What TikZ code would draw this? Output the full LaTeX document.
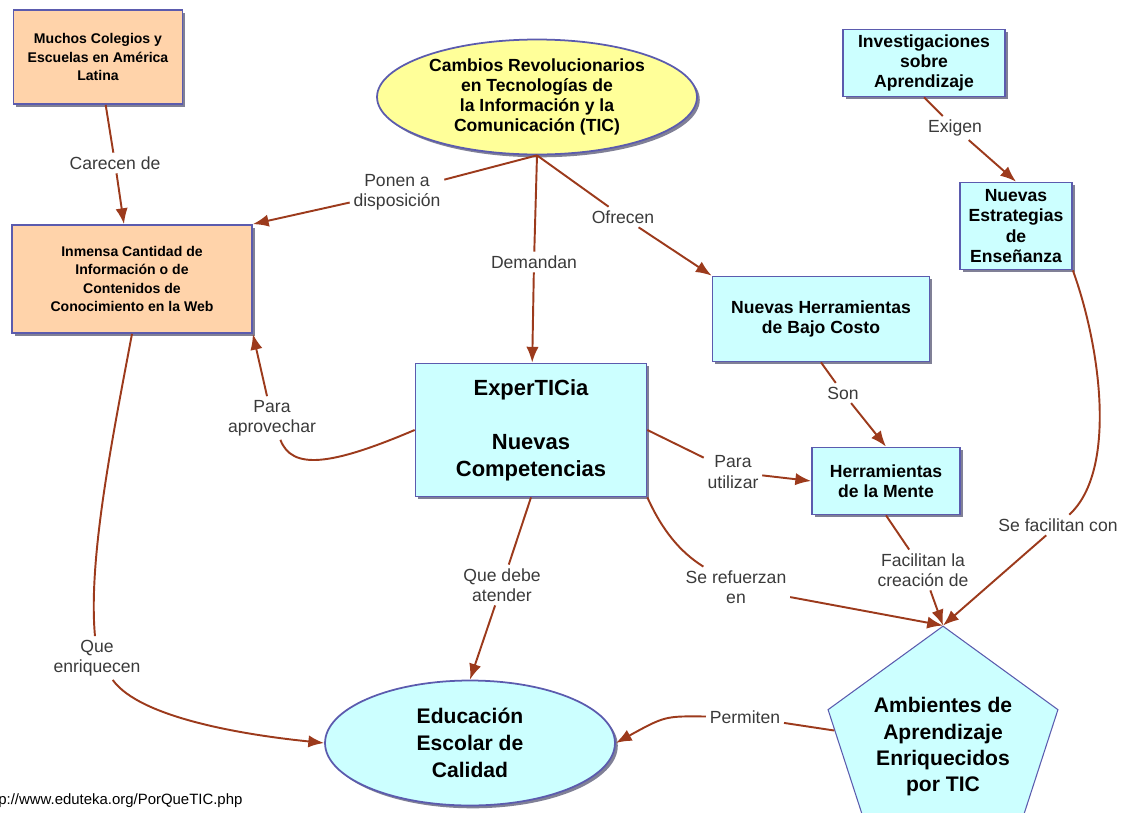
\documentclass[tikz,border=0pt]{standalone}
\usepackage{fontspec}
\setmainfont{Liberation Sans}
\usetikzlibrary{shapes.geometric,shadows,arrows.meta}
\definecolor{peachfill}{HTML}{FFD3AA}
\definecolor{skyfill}{HTML}{CCFFFF}
\definecolor{sunfill}{HTML}{FFFF99}
\definecolor{rim}{HTML}{5B5BAE}
\definecolor{shade}{HTML}{4A4A6A}
\definecolor{rust}{HTML}{9C3A1C}
\definecolor{phrasetext}{HTML}{3A3A3A}
\tikzstyle{concept}=[rectangle, draw=rim, line width=1pt, align=center, inner sep=2pt, drop shadow={shadow xshift=1.6pt, shadow yshift=-1.6pt, fill=shade, opacity=0.7}]
\tikzstyle{web}=[concept, fill=peachfill, font=\bfseries\fontsize{8}{10.5}\selectfont]
\tikzstyle{idea}=[concept, fill=skyfill, font=\bfseries\fontsize{10}{11.5}\selectfont]
\tikzstyle{big}=[concept, fill=skyfill, font=\bfseries\fontsize{12.5}{15.3}\selectfont]
\tikzstyle{oval}=[concept, ellipse, inner sep=0pt]
\tikzstyle{goal}=[regular polygon, regular polygon sides=5, draw=rim, line width=0.6pt, fill=skyfill, inner sep=0pt, minimum size=4.4cm, align=center, font=\bfseries\fontsize{12}{15}\selectfont]
\tikzstyle{verb}=[inner sep=2pt, align=center, text=phrasetext, font=\fontsize{10}{11.5}\selectfont]
\tikzstyle{rel}=[draw=rust, line width=1.1pt]
\tikzstyle{relto}=[rel, -{Latex[length=9pt,width=7pt]}]

\begin{document}
\begin{tikzpicture}[x=0.02cm, y=-0.02cm]
				\useasboundingbox (0,0) rectangle (1133,812);
				\clip (0,0) rectangle (1133,812);

				%The concepts
				\draw (98,57) node[web, minimum width=3.38cm, minimum height=1.88cm] (colegios) {Muchos Colegios y\\Escuelas en América\\Latina};
				\draw (132,279) node[web, minimum width=4.8cm, minimum height=2.16cm] (inmensa) {Inmensa Cantidad de\\Información o de\\Contenidos de\\Conocimiento en la Web};
				\draw (537,97) node[oval, fill=sunfill, minimum width=6.4cm, minimum height=2.3cm, font=\bfseries\fontsize{10}{11.5}\selectfont] (cambios) {Cambios Revolucionarios\\en Tecnologías de\\la Información y la\\Comunicación (TIC)};
				\draw (924,63) node[idea, minimum width=3.24cm, minimum height=1.34cm] (investigaciones) {Investigaciones\\sobre\\Aprendizaje};
				\draw (1016,226) node[idea, minimum width=2.24cm, minimum height=1.74cm] (estrategias) {Nuevas\\Estrategias\\de\\Enseñanza};
				\draw (821,319) node[idea, minimum width=4.34cm, minimum height=1.7cm] (bajocosto) {Nuevas Herramientas\\de Bajo Costo};
				\draw (531,430) node[big, minimum width=4.62cm, minimum height=2.66cm] (experticia) {ExperTICia\\[15.3pt]Nuevas\\Competencias};
				\draw (886,481) node[idea, minimum width=2.96cm, minimum height=1.34cm] (mente) {Herramientas\\de la Mente};
				\draw (470,743) node[oval, fill=skyfill, minimum width=5.8cm, minimum height=2.5cm, font=\bfseries\fontsize{12}{15.5}\selectfont] (educacion) {Educación\\Escolar de\\Calidad};
				\draw (943,747) node[goal] (ambientes) {Ambientes de\\Aprendizaje\\Enriquecidos\\por TIC};

				%The linking phrases
				\draw (115,163) node[verb] (carecen) {Carecen de};
				\draw (397,192) node[verb] (ponen) {Ponen a\\disposición};
				\draw (534,262) node[verb] (demandan) {Demandan};
				\draw (623,217) node[verb] (ofrecen) {Ofrecen};
				\draw (955,128) node[verb] (exigen) {Exigen};
				\draw (843,393) node[verb] (son) {Son};
				\draw (272,418) node[verb] (aprovechar) {Para\\aprovechar};
				\draw (733,472) node[verb] (utilizar) {Para\\utilizar};
				\draw (502,585) node[verb] (atender) {Que debe\\atender};
				\draw (736,587) node[verb] (refuerzan) {Se refuerzan\\en};
				\draw (923,570) node[verb] (facilitan) {Facilitan la\\creación de};
				\draw (1058,525) node[verb] (facilitancon) {Se facilitan con};
				\draw (97,658) node[verb] (enriquecen) {Que\\enriquecen};
				\draw (745,717) node[verb] (permiten) {Permiten};

				%The links
				\draw[rel] (colegios) -- (carecen);
				\draw[relto] (carecen) -- (inmensa);
				\draw[rel] (cambios.south) -- (ponen);
				\draw[relto] (ponen) -- (inmensa.north east);
				\draw[rel] (cambios.south) -- (demandan);
				\draw[relto] (demandan) -- (experticia);
				\draw[rel] (cambios.south) -- (ofrecen);
				\draw[relto] (ofrecen) -- (bajocosto.north west);
				\draw[rel] (investigaciones.south) -- (exigen);
				\draw[relto] (exigen) -- (estrategias.north);
				\draw[rel] (bajocosto.south) -- (son);
				\draw[relto] (son) -- (mente.north);
				\draw[rel] (experticia.west) .. controls (330,466) and (292,470) .. (aprovechar);
				\draw[relto] (aprovechar) -- (inmensa.south east);
				\draw[rel] (experticia.east) -- (utilizar);
				\draw[relto] (utilizar) -- (mente.west);
				\draw[rel] (experticia.south) -- (atender);
				\draw[relto] (atender) -- (educacion.north);
				\draw[rel] (experticia.south east) .. controls (662,530) and (680,552) .. (refuerzan);
				\draw[relto] (refuerzan) -- (ambientes.corner 1);
				\draw[rel] (mente.south) -- (facilitan);
				\draw[relto] (facilitan) -- (ambientes.corner 1);
				\draw[rel] (estrategias.south east) .. controls (1100,345) and (1118,470) .. (facilitancon);
				\draw[relto] (facilitancon) -- (ambientes.corner 1);
				\draw[rel] (inmensa.south) .. controls (112,440) and (88,560) .. (enriquecen);
				\draw[relto] (enriquecen) .. controls (140,718) and (245,735) .. (educacion.west);
				\draw[rel] (ambientes) -- (permiten);
				\draw[relto] (permiten) .. controls (665,716) .. (educacion.east);

				%The source
				\draw (-2,801) node[anchor=west, inner sep=0pt, font=\fontsize{8.5}{9}\selectfont] (fuente) {p://www.eduteka.org/PorQueTIC.php};
\end{tikzpicture}
\end{document}
